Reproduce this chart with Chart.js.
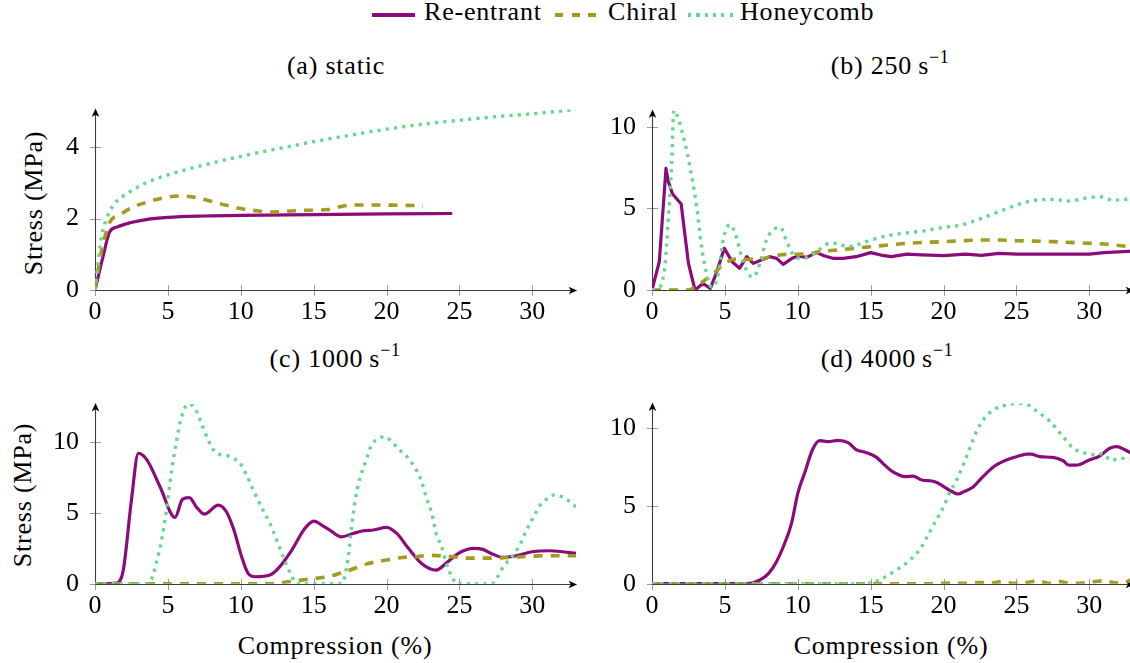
<!DOCTYPE html>
<html>
<head>
<meta charset="utf-8">
<script src="https://cdn.jsdelivr.net/npm/chart.js@4/dist/chart.umd.min.js"></script>
<style>
  html, body { margin: 0; padding: 0; background: #fff; }
  body { width: 1130px; height: 663px; overflow: hidden; position: relative; color: #000;
         font-family: 'Liberation Serif'; }
  canvas { position: absolute; }
  .txt { position: absolute; font-family: 'Liberation Serif'; font-size: 26px; line-height: 30px;
         white-space: nowrap; letter-spacing: 0.8px; }
  .ctr { width: 400px; text-align: center; }
  .rot { width: 300px; text-align: center; transform: rotate(-90deg); }
  .sup { font-size: 18px; position: relative; top: -11px; letter-spacing: 0.5px; }
  .key { position: absolute; }
</style>
</head>
<body>

<div class="key" style="left:372px;top:13.4px;width:43px;height:3.2px;background:#8c0b7b"></div>
<div class="txt" style="left:424px;top:-3px">Re-entrant</div>
<div class="key" style="left:555px;top:13.2px;width:41px;height:3.6px;background:repeating-linear-gradient(90deg,#a39a1f 0 8.3px,transparent 8.3px 16.6px)"></div>
<div class="txt" style="left:608px;top:-3px">Chiral</div>
<div class="key" style="left:688px;top:13.3px;width:45px;height:3.4px;background:repeating-linear-gradient(90deg,#67d68e 0 3.2px,transparent 3.2px 8.3px)"></div>
<div class="txt" style="left:740px;top:-3px">Honeycomb</div>

<div class="txt ctr" style="left:136px;top:51px">(a) static</div>
<div class="txt ctr" style="left:690px;top:51px">(b) 250&#8201;s<span class="sup">&#8722;1</span></div>
<div class="txt ctr" style="left:135px;top:344px">(c) 1000&#8201;s<span class="sup">&#8722;1</span></div>
<div class="txt ctr" style="left:687px;top:344px">(d) 4000&#8201;s<span class="sup">&#8722;1</span></div>

<div class="txt rot" style="left:-116px;top:188px">Stress (MPa)</div>
<div class="txt rot" style="left:-127px;top:480px">Stress (MPa)</div>
<div class="txt ctr" style="left:135px;top:631px">Compression (%)</div>
<div class="txt ctr" style="left:691px;top:631px">Compression (%)</div>

<script>
// (a) static
const staticReentrantStrain = [0, 0.5, 1.0, 1.5, 2.4, 3.5, 5, 7.5, 10, 15, 20, 24.5];
const staticReentrantStress = [0, 0.85, 1.62, 1.76, 1.88, 1.97, 2.03, 2.07, 2.09, 2.11, 2.13, 2.14];
const staticChiralStrain = [0, 0.35, 1.0, 1.7, 2.5, 3.5, 5, 6, 7, 8, 9, 10, 11, 12, 13, 14.5, 16, 16.8, 17.7, 19, 21, 22.5];
const staticChiralStress = [0, 0.9, 1.88, 2.1, 2.3, 2.45, 2.6, 2.63, 2.58, 2.48, 2.37, 2.28, 2.22, 2.18, 2.2, 2.23, 2.25, 2.33, 2.38, 2.38, 2.37, 2.36];
const staticHoneycombStrain = [0, 0.45, 0.8, 1.25, 2.4, 3.5, 5, 7.5, 10, 12.5, 15, 17.5, 20, 22.5, 25, 27.5, 30, 33];
const staticHoneycombStress = [0, 1.5, 2.0, 2.37, 2.75, 3.0, 3.22, 3.5, 3.74, 3.95, 4.15, 4.33, 4.5, 4.64, 4.75, 4.85, 4.93, 5.05];

// (b) 250 s^-1
const rate250ReentrantStrain = [0, 0.5, 0.96, 1.1, 1.4, 2.0, 2.5, 2.95, 3.5, 4.0, 4.4, 4.96, 5.5, 6.0, 6.5, 6.95, 7.5, 8.1, 8.55, 9.0, 9.6, 10.0, 10.6, 11.3, 11.8, 12.4, 13.1, 14.0, 15.0, 15.7, 16.4, 17.5, 18.5, 20, 21.5, 22.6, 23.8, 25, 27.5, 30, 31, 33];
const rate250ReentrantStress = [0, 1.73, 7.45, 6.7, 5.9, 5.27, 1.63, 0, 0.4, 0.1, 1.0, 2.55, 1.73, 1.33, 2.04, 1.63, 1.84, 2.04, 1.94, 1.57, 1.94, 2.08, 2.0, 2.29, 2.1, 1.94, 1.94, 2.04, 2.29, 2.14, 2.04, 2.2, 2.15, 2.1, 2.2, 2.12, 2.24, 2.2, 2.2, 2.2, 2.29, 2.38];
const rate250ChiralStrain = [0, 2.5, 3.3, 4.2, 5.0, 5.6, 6.5, 7.4, 8.1, 9.2, 10.6, 11.5, 12.7, 15, 17.5, 20, 22.6, 23.8, 25, 27.5, 30, 31, 33];
const rate250ChiralStress = [0, 0, 0.4, 1.0, 1.63, 1.88, 1.88, 1.88, 2.04, 2.18, 2.2, 2.35, 2.45, 2.65, 2.86, 2.96, 3.06, 3.06, 3.02, 2.96, 2.86, 2.82, 2.62];
const rate250HoneycombStrain = [0, 0.55, 0.9, 1.1, 1.35, 1.5, 1.8, 2.26, 2.6, 3.06, 3.4, 3.75, 4.1, 4.55, 4.9, 5.35, 5.7, 6.15, 6.6, 6.95, 7.4, 7.85, 8.3, 8.8, 9.2, 9.7, 10.15, 10.7, 11.3, 12.2, 12.7, 13.4, 14.0, 15.0, 16.4, 17.5, 18.7, 20, 21.2, 22.6, 23.8, 25, 26.3, 27.5, 28.6, 30, 30.7, 31.6, 33];
const rate250HoneycombStress = [0, 0.2, 1.63, 4.08, 7.76, 11.0, 10.5, 9.0, 7.55, 5.1, 2.65, 1.0, 0.16, 1.0, 3.16, 4.0, 3.47, 2.04, 1.0, 0.8, 1.63, 3.06, 3.67, 3.84, 3.06, 2.14, 1.94, 2.0, 2.35, 2.86, 2.86, 2.65, 2.76, 3.06, 3.37, 3.5, 3.63, 3.84, 3.98, 4.39, 4.8, 5.2, 5.5, 5.55, 5.45, 5.67, 5.71, 5.5, 5.6];

// (c) 1000 s^-1
const rate1000ReentrantStrain = [0, 1.5, 1.94, 2.5, 2.97, 3.54, 4.46, 5.49, 6.0, 6.47, 6.97, 7.5, 8.46, 8.98, 9.49, 10.06, 10.5, 11.0, 12.0, 12.57, 13.5, 14.4, 15.0, 15.66, 16.1, 16.9, 17.7, 18.4, 19.1, 20.0, 20.7, 21.5, 22.4, 23.4, 24.2, 25.0, 25.95, 26.6, 27.3, 28.0, 28.8, 30.0, 31.2, 32.1, 33.0];
const rate1000ReentrantStress = [0, 0.05, 0.96, 5.9, 9.18, 8.76, 6.83, 4.67, 5.94, 6.06, 5.38, 4.9, 5.54, 5.12, 3.9, 1.9, 0.73, 0.49, 0.61, 1.08, 2.37, 3.9, 4.41, 4.06, 3.78, 3.3, 3.54, 3.73, 3.78, 3.97, 3.54, 2.49, 1.43, 0.96, 1.55, 2.18, 2.49, 2.42, 2.07, 1.85, 1.95, 2.25, 2.32, 2.25, 2.14];
const rate1000ChiralStrain = [0, 12, 13.4, 14.5, 15.5, 16.1, 16.7, 17.25, 18.0, 18.6, 20, 21.1, 22, 22.9, 24, 25.6, 27.4, 29.3, 30.9, 33];
const rate1000ChiralStress = [0, 0, 0.15, 0.3, 0.42, 0.52, 0.7, 0.88, 1.15, 1.38, 1.67, 1.85, 1.9, 2.0, 1.95, 1.8, 1.8, 1.9, 1.97, 1.97];
const rate1000HoneycombStrain = [0, 3.5, 3.9, 4.2, 4.57, 4.9, 5.26, 5.6, 5.94, 6.4, 6.86, 7.3, 7.77, 8.34, 8.9, 9.5, 9.95, 10.4, 10.86, 11.4, 12.0, 12.46, 12.9, 13.4, 13.85, 16.9, 17.1, 17.4, 17.6, 17.85, 18.2, 18.6, 18.97, 19.4, 19.9, 20.35, 20.8, 21.3, 21.6, 22.1, 22.4, 22.75, 23.1, 23.4, 23.77, 24.1, 24.6, 24.8, 27.2, 27.55, 28.0, 28.6, 29.2, 29.6, 30.1, 30.5, 30.96, 31.4, 32.0, 32.4, 33.0];
const rate1000HoneycombStress = [0, 0, 0.38, 1.43, 3.08, 5.19, 8.0, 10.1, 11.76, 12.65, 12.35, 11.3, 10.1, 9.18, 9.06, 8.83, 8.47, 7.65, 6.6, 5.42, 4.25, 3.08, 1.9, 0.73, 0, 0, 0.38, 2.1, 4.0, 5.9, 7.5, 8.7, 9.77, 10.2, 10.35, 10.0, 9.5, 9.06, 8.7, 7.9, 7.2, 6.0, 4.95, 3.55, 2.6, 1.43, 0.26, 0, 0, 0.38, 1.2, 1.9, 2.84, 3.78, 4.72, 5.47, 5.94, 6.24, 6.13, 5.9, 5.4];

// (d) 4000 s^-1
const rate4000ReentrantStrain = [0, 6.5, 7.4, 8.0, 8.54, 9.1, 9.57, 10.0, 10.5, 11.0, 11.5, 12.1, 12.76, 13.45, 14.0, 14.7, 15.4, 15.96, 16.5, 17.4, 17.9, 18.5, 19.4, 19.95, 20.4, 21.0, 21.4, 22.0, 22.7, 23.5, 24.3, 25.0, 25.7, 26.0, 26.6, 27.5, 28.2, 28.6, 29.1, 30.0, 30.7, 31.4, 31.9, 32.4, 33.0];
const rate4000ReentrantStress = [0, 0, 0.24, 0.66, 1.41, 2.59, 3.87, 5.79, 7.18, 8.57, 9.17, 9.1, 9.19, 9.04, 8.6, 8.4, 8.1, 7.6, 7.18, 6.86, 6.9, 6.65, 6.54, 6.26, 6.0, 5.75, 5.9, 6.18, 6.86, 7.54, 7.93, 8.14, 8.31, 8.31, 8.14, 8.1, 7.88, 7.6, 7.6, 7.93, 8.18, 8.68, 8.78, 8.6, 8.3];
const rate4000ChiralStrain = [0, 19.5, 20.5, 21.5, 22.5, 23.3, 24.0, 24.6, 25.3, 26.0, 26.5, 27.2, 28.0, 28.5, 29.3, 30.3, 31.0, 31.8, 32.5, 33.0];
const rate4000ChiralStress = [0, 0, 0.04, 0.02, 0.08, 0.02, 0.15, 0.05, 0.0, 0.12, 0.18, 0.02, 0.14, 0.05, 0.02, 0.12, 0.2, 0.05, 0.1, 0.3];
const rate4000HoneycombStrain = [0, 14.7, 15.3, 15.8, 16.76, 17.7, 18.5, 19.0, 19.5, 19.95, 20.4, 20.9, 21.3, 21.8, 22.2, 22.8, 23.6, 24.3, 25.0, 25.7, 26.3, 27.3, 28.2, 28.9, 29.8, 30.5, 30.9, 31.5, 32.1, 33.0];
const rate4000HoneycombStress = [0, 0, 0.13, 0.34, 0.88, 1.52, 2.37, 3.23, 4.08, 4.83, 5.79, 6.65, 7.5, 8.68, 9.64, 10.6, 11.24, 11.45, 11.55, 11.5, 11.13, 10.4, 9.42, 8.68, 8.35, 8.25, 8.35, 7.9, 8.03, 8.03];

// axis ranges and tick steps
const strainMax = 33;
const strainStep = 5;
const stressMax = [5.05, 11.0, 12.65, 11.55];
const stressStep = [2, 5, 5, 5];

const RE = { color: '#8c0b7b', width: 3.2, dash: [], order: 2 };
const CH = { color: '#a39a1f', width: 3.6, dash: [9, 8], order: 1 };
const HC = { color: '#67d68e', width: 3.4, dash: [3.2, 5.1], order: 0 };

const TICK_FONT = { family: "'Liberation Serif'", size: 26 };

// arrowed axis lines with tick marks centred on them
const arrowAxes = {
  id: 'arrowAxes',
  beforeDatasetsDraw(chart) {
    const { ctx, chartArea: area, scales: { x, y } } = chart;
    const x0 = Math.round(x.getPixelForValue(0)) + 0.5;
    const y0 = Math.round(y.getPixelForValue(0)) + 0.5;
    ctx.save();
    ctx.strokeStyle = '#9a9a9a';
    ctx.lineWidth = 1;
    ctx.beginPath();
    x.ticks.forEach(t => {
      const px = Math.round(x.getPixelForValue(t.value)) + 0.5;
      ctx.moveTo(px, y0 - 5.5); ctx.lineTo(px, y0 + 5.5);
    });
    y.ticks.forEach(t => {
      const py = Math.round(y.getPixelForValue(t.value)) + 0.5;
      ctx.moveTo(x0 - 5.5, py); ctx.lineTo(x0 + 5.5, py);
    });
    ctx.stroke();

    const right = area.right + 1, top = area.top - 1;
    ctx.strokeStyle = '#3c3c3c';
    ctx.lineWidth = 1.1;
    ctx.beginPath();
    ctx.moveTo(x0, y0); ctx.lineTo(right - 4, y0);
    ctx.moveTo(x0, y0); ctx.lineTo(x0, top + 4);
    ctx.stroke();

    ctx.fillStyle = '#000';
    ctx.beginPath();
    ctx.moveTo(right, y0);
    ctx.lineTo(right - 8.5, y0 - 3.8);
    ctx.lineTo(right - 6.2, y0);
    ctx.lineTo(right - 8.5, y0 + 3.8);
    ctx.closePath();
    ctx.moveTo(x0, top);
    ctx.lineTo(x0 - 3.8, top + 8.5);
    ctx.lineTo(x0, top + 6.2);
    ctx.lineTo(x0 + 3.8, top + 8.5);
    ctx.closePath();
    ctx.fill();
    ctx.restore();
  }
};

function makeDataset(style, name, xs, ys, smooth) {
  return {
    label: name,
    data: xs.map((v, i) => ({ x: v, y: ys[i] })),
    borderColor: style.color,
    borderWidth: style.width,
    borderDash: style.dash,
    borderCapStyle: 'butt',
    borderJoinStyle: 'round',
    pointRadius: 0,
    fill: false,
    tension: 0,
    cubicInterpolationMode: smooth ? 'monotone' : 'default',
    order: style.order
  };
}

function noPad(s) { s.paddingTop = 0; s.paddingBottom = 0; s.paddingLeft = 0; s.paddingRight = 0; }

function panel(left, top, w, h, yAxisW, xAxisH, padTop, padRight, ymax, ystep, datasets) {
  const cv = document.createElement('canvas');
  cv.width = w; cv.height = h;
  cv.style.left = left + 'px'; cv.style.top = top + 'px';
  document.body.appendChild(cv);
  return new Chart(cv, {
    type: 'line',
    data: { datasets },
    options: {
      responsive: false,
      animation: false,
      devicePixelRatio: 1,
      events: [],
      layout: { padding: { top: padTop, right: padRight, bottom: 0, left: 0 } },
      plugins: { legend: { display: false }, tooltip: { enabled: false } },
      scales: {
        x: {
          type: 'linear', min: 0, max: strainMax,
          grid: { display: false, drawTicks: false },
          border: { display: false },
          ticks: { stepSize: strainStep, includeBounds: false, autoSkip: false, maxRotation: 0,
                   font: TICK_FONT, color: '#000', padding: 7 },
          afterFit(s) { s.height = xAxisH; noPad(s); }
        },
        y: {
          type: 'linear', min: 0, max: ymax,
          grid: { display: false, drawTicks: false },
          border: { display: false },
          ticks: { stepSize: ystep, includeBounds: false, autoSkip: false,
                   font: TICK_FONT, color: '#000', padding: 16 },
          afterFit(s) { s.width = yAxisW; noPad(s); }
        }
      }
    },
    plugins: [arrowAxes]
  });
}

panel(0, 90, 600, 240, 95, 40, 19.5, 23.9, stressMax[0], stressStep[0], [
  makeDataset(RE, 'Re-entrant', staticReentrantStrain, staticReentrantStress, true),
  makeDataset(CH, 'Chiral', staticChiralStrain, staticChiralStress, true),
  makeDataset(HC, 'Honeycomb', staticHoneycombStrain, staticHoneycombStress, true)
]);

panel(560, 90, 590, 240, 92, 40, 20.4, 16.9, stressMax[1], stressStep[1], [
  makeDataset(RE, 'Re-entrant', rate250ReentrantStrain, rate250ReentrantStress, false),
  makeDataset(CH, 'Chiral', rate250ChiralStrain, rate250ChiralStress, true),
  makeDataset(HC, 'Honeycomb', rate250HoneycombStrain, rate250HoneycombStress, true)
]);

panel(0, 380, 600, 240, 95, 36.3, 24.1, 23.9, stressMax[2], stressStep[2], [
  makeDataset(RE, 'Re-entrant', rate1000ReentrantStrain, rate1000ReentrantStress, true),
  makeDataset(CH, 'Chiral', rate1000ChiralStrain, rate1000ChiralStress, true),
  makeDataset(HC, 'Honeycomb', rate1000HoneycombStrain, rate1000HoneycombStress, true)
]);

panel(560, 380, 590, 240, 92, 36.3, 23.5, 16.9, stressMax[3], stressStep[3], [
  makeDataset(RE, 'Re-entrant', rate4000ReentrantStrain, rate4000ReentrantStress, true),
  makeDataset(CH, 'Chiral', rate4000ChiralStrain, rate4000ChiralStress, false),
  makeDataset(HC, 'Honeycomb', rate4000HoneycombStrain, rate4000HoneycombStress, true)
]);
</script>
</body>
</html>
